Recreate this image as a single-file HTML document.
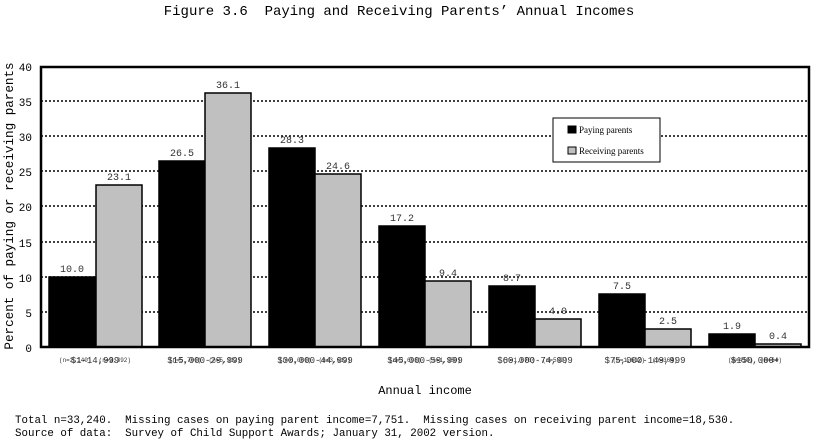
<!DOCTYPE html>
<html><head><style>
body{margin:0;background:#fff;}
svg text{font-family:"Liberation Mono",monospace;white-space:pre;}
</style></head><body>
<svg width="819" height="439" xmlns="http://www.w3.org/2000/svg" xml:space="preserve">
<rect width="819" height="439" fill="#fff"/>
<text x="399" y="15" font-size="14" text-anchor="middle">Figure 3.6  Paying and Receiving Parents’ Annual Incomes</text>
<g stroke="#000" stroke-width="1.5" stroke-dasharray="2,2">
<line x1="41" x2="809" y1="101" y2="101"/>
<line x1="41" x2="809" y1="136" y2="136"/>
<line x1="41" x2="809" y1="171" y2="171"/>
<line x1="41" x2="809" y1="206" y2="206"/>
<line x1="41" x2="809" y1="242" y2="242"/>
<line x1="41" x2="809" y1="277" y2="277"/>
<line x1="41" x2="809" y1="312" y2="312"/>
</g>
<g stroke="#000" stroke-width="1.5">
<rect x="49" y="277" width="47" height="70" fill="#000"/>
<rect x="96" y="185" width="46" height="162" fill="#c0c0c0"/>
<rect x="159" y="161" width="46" height="186" fill="#000"/>
<rect x="205" y="93" width="46" height="254" fill="#c0c0c0"/>
<rect x="269" y="148" width="46" height="199" fill="#000"/>
<rect x="315" y="174" width="46" height="173" fill="#c0c0c0"/>
<rect x="379" y="226" width="46" height="121" fill="#000"/>
<rect x="425" y="281" width="46" height="66" fill="#c0c0c0"/>
<rect x="489" y="286" width="46" height="61" fill="#000"/>
<rect x="535" y="319" width="46" height="28" fill="#c0c0c0"/>
<rect x="599" y="294" width="46" height="53" fill="#000"/>
<rect x="645" y="329" width="46" height="18" fill="#c0c0c0"/>
<rect x="709" y="334" width="46" height="13" fill="#000"/>
<rect x="755" y="344" width="46" height="3" fill="#c0c0c0"/>
</g>
<rect x="41" y="67" width="768" height="280" fill="none" stroke="#000" stroke-width="2.5"/>
<g font-size="10" fill="#333" text-anchor="middle">
<text x="72" y="272">10.0</text><text x="119" y="180">23.1</text>
<text x="182" y="156">26.5</text><text x="228" y="88">36.1</text>
<text x="292" y="143">28.3</text><text x="338" y="169">24.6</text>
<text x="402" y="221">17.2</text><text x="448" y="276">9.4</text>
<text x="512" y="281">8.7</text><text x="558" y="314">4.0</text>
<text x="622" y="289">7.5</text><text x="668" y="324">2.5</text>
<text x="732" y="329">1.9</text><text x="778" y="339">0.4</text>
</g>
<g font-size="11" text-anchor="end">
<text x="32" y="71">40</text><text x="32" y="106">35</text><text x="32" y="141">30</text>
<text x="32" y="176">25</text><text x="32" y="211">20</text><text x="32" y="247">15</text>
<text x="32" y="282">10</text><text x="32" y="317">5</text><text x="32" y="352">0</text>
</g>
<text transform="translate(13,206) rotate(-90)" font-size="12.6" text-anchor="middle">Percent of paying or receiving parents</text>
<g font-size="9" fill="#333" text-anchor="middle">
<text x="95" y="363">$1-14,999</text><text x="205" y="363">$15,000-29,999</text>
<text x="315" y="363">$30,000-44,999</text><text x="425" y="363">$45,000-59,999</text>
<text x="535" y="363">$60,000-74,999</text><text x="645" y="363">$75,000-149,999</text>
<text x="755" y="363">$150,000+</text>
</g>
<g font-size="6" fill="#333" text-anchor="middle">
<text x="95" y="362">(n=2,140)  (n=3,392)</text><text x="205" y="362">(n=5,700)  (n=5,312)</text>
<text x="315" y="362">(n=6,080)  (n=3,612)</text><text x="425" y="362">(n=3,698)  (n=1,380)</text>
<text x="535" y="362">(n=1,870)  (n=589)</text><text x="645" y="362">(n=1,612)  (n=364)</text>
<text x="755" y="362">(n=410)  (n=64)</text>
</g>
<text x="425" y="394" font-size="12" text-anchor="middle">Annual income</text>
<rect x="553" y="118" width="107" height="44" fill="#fff" stroke="#000" stroke-width="1"/>
<rect x="568" y="126" width="8" height="7" fill="#000" stroke="#000"/>
<rect x="568" y="147" width="8" height="7" fill="#c0c0c0" stroke="#000"/>
<text x="579" y="133" font-size="9" style="font-family:'Liberation Serif',serif">Paying parents</text>
<text x="579" y="154" font-size="9" style="font-family:'Liberation Serif',serif">Receiving parents</text>
<text x="15" y="423" font-size="10.8">Total n=33,240.  Missing cases on paying parent income=7,751.  Missing cases on receiving parent income=18,530.</text>
<text x="15" y="436" font-size="10.8">Source of data:  Survey of Child Support Awards; January 31, 2002 version.</text>
</svg>
</body></html>
